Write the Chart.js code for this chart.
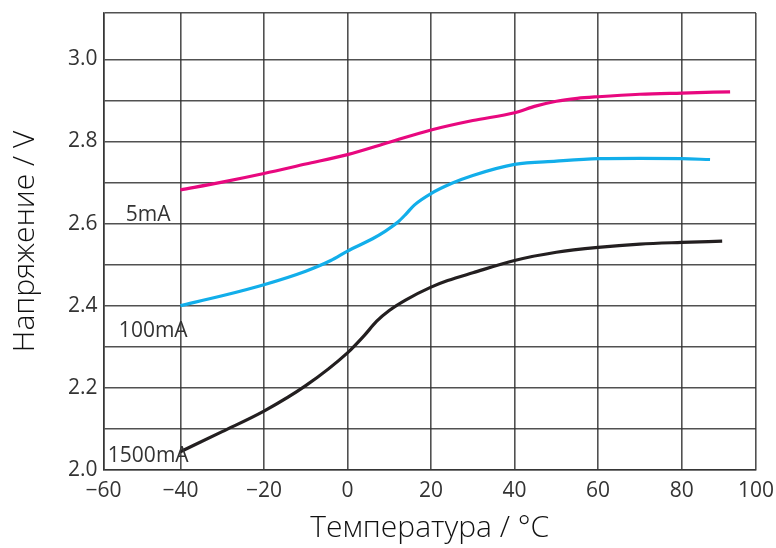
<!doctype html>
<html lang="ru">
  <head>
    <meta charset="utf-8">
    <title>Напряжение / температура</title>
    <style>
      * { margin: 0; padding: 0; }
      body { background: #fff; }
      .chartBox { width: 776px; height: 548px; }
    </style>
  </head>
  <body>
    <div class="chartBox">
      <canvas id="myChart" width="776" height="548"></canvas>
    </div>
    <script src="https://cdn.jsdelivr.net/npm/chart.js/dist/chart.umd.min.js"></script>
    <script>
    // data
    const seriesNames = ['5mA', '100mA', '1500mA'];

    const temps5 = [-40, -30, -20, -10, 0, 10, 20, 30, 40, 45, 50, 55, 60, 70, 80, 91.6];
    const volts5 = [2.682, 2.701, 2.722, 2.745, 2.768, 2.798, 2.828, 2.851, 2.870, 2.886, 2.898, 2.905, 2.909, 2.915, 2.918, 2.921];

    const temps100 = [-40, -30, -20, -10, -4, 0, 6, 9, 12, 14, 16, 20, 25, 30, 40, 50, 60, 70, 80, 86.8];
    const volts100 = [2.400, 2.424, 2.451, 2.484, 2.510, 2.533, 2.563, 2.581, 2.603, 2.623, 2.645, 2.673, 2.698, 2.717, 2.744, 2.752, 2.758, 2.759, 2.758, 2.756];

    const temps1500 = [-40, -30, -20, -10, 0, 4, 7, 10, 14, 20, 24, 30, 40, 50, 60, 70, 80, 89.7];
    const volts1500 = [2.044, 2.093, 2.143, 2.205, 2.285, 2.327, 2.362, 2.388, 2.414, 2.445, 2.461, 2.480, 2.510, 2.530, 2.542, 2.550, 2.554, 2.557];

    // axis ticks
    const xTicks = [-60, -40, -20, 0, 20, 40, 60, 80, 100];
    const yGrid = [2.0, 2.1, 2.2, 2.3, 2.4, 2.5, 2.6, 2.7, 2.8, 2.9, 3.0];
    const yLabels = [2.0, 2.2, 2.4, 2.6, 2.8, 3.0];

    const toPoints = (xs, ys) => xs.map((x, i) => ({ x: x, y: ys[i] }));

    const lineStyle = {
      borderWidth: 3.2,
      pointRadius: 0,
      fill: false,
      cubicInterpolationMode: 'monotone'
    };

    const data = {
      datasets: [
        Object.assign({ label: seriesNames[0], data: toPoints(temps5, volts5), borderColor: '#e8087f' }, lineStyle),
        Object.assign({ label: seriesNames[1], data: toPoints(temps100, volts100), borderColor: '#12aeea' }, lineStyle),
        Object.assign({ label: seriesNames[2], data: toPoints(temps1500, volts1500), borderColor: '#231f20' }, lineStyle)
      ]
    };

    // text labels next to the curves, in data units
    const curveLabels = {
      id: 'curveLabels',
      afterDatasetsDraw(chart, args, opts) {
        const c = chart.ctx;
        const xs = chart.scales.x, ys = chart.scales.y;
        c.save();
        c.font = opts.font;
        c.fillStyle = opts.color;
        c.textAlign = 'center';
        c.textBaseline = 'middle';
        opts.items.forEach(it => {
          c.fillText(it.text, xs.getPixelForValue(it.x), ys.getPixelForValue(it.y));
        });
        c.restore();
      }
    };

    const gridColor = 'rgba(50, 50, 50, 0.85)';
    const tickFont = { family: 'Open Sans', size: 21 };
    const titleFont = { family: 'Open Sans', size: 30, weight: '300', lineHeight: 1.0 };

    const config = {
      type: 'line',
      data,
      options: {
        responsive: false,
        animation: false,
        layout: { padding: { left: 10, top: 13, right: 20, bottom: 5 } },
        plugins: {
          legend: { display: false },
          tooltip: { enabled: false },
          curveLabels: {
            font: '21px "Open Sans"',
            color: '#333',
            items: [
              { text: seriesNames[0], x: -47.7, y: 2.621 },
              { text: seriesNames[1], x: -46.5, y: 2.337 },
              { text: seriesNames[2], x: -47.7, y: 2.034 }
            ]
          }
        },
        scales: {
          x: {
            type: 'linear',
            min: -58.4,
            max: 97.8,
            afterBuildTicks: (scale) => {
              scale.ticks = xTicks.map(v => ({ value: Math.min(Math.max(v, scale.min), scale.max) }));
            },
            afterFit: (scale) => {
              scale.paddingLeft = 0;
              scale.paddingRight = 0;
            },
            ticks: {
              autoSkip: false,
              maxRotation: 0,
              padding: 9,
              color: '#333',
              font: tickFont,
              callback: (value, index) => String(xTicks[index]).replace('-', '\u2212')
            },
            grid: { color: gridColor, lineWidth: 1.6, drawTicks: false },
            border: { color: gridColor, width: 1.6 },
            title: {
              display: true,
              text: 'Температура / °C',
              color: '#111',
              font: titleFont,
              padding: { top: 0, bottom: 0 }
            }
          },
          y: {
            type: 'linear',
            min: 2.0,
            max: 3.113,
            afterBuildTicks: (scale) => {
              scale.ticks = yGrid.concat([scale.max]).map(v => ({ value: v }));
            },
            afterFit: (scale) => {
              scale.paddingTop = 0;
              scale.paddingBottom = 0;
            },
            ticks: {
              autoSkip: false,
              padding: 6,
              color: '#333',
              font: tickFont,
              callback: (value) => yLabels.some(l => Math.abs(l - value) < 1e-6) ? value.toFixed(1) : ''
            },
            grid: { color: gridColor, lineWidth: 1.6, drawTicks: false },
            border: { color: gridColor, width: 1.6 },
            title: {
              display: true,
              text: 'Напряжение / V',
              color: '#111',
              font: titleFont,
              padding: { top: 0, bottom: 22 }
            }
          }
        }
      },
      plugins: [curveLabels]
    };

    const ctx = document.getElementById('myChart');
    const myChart = new Chart(ctx, config);
    </script>
  </body>
</html>
